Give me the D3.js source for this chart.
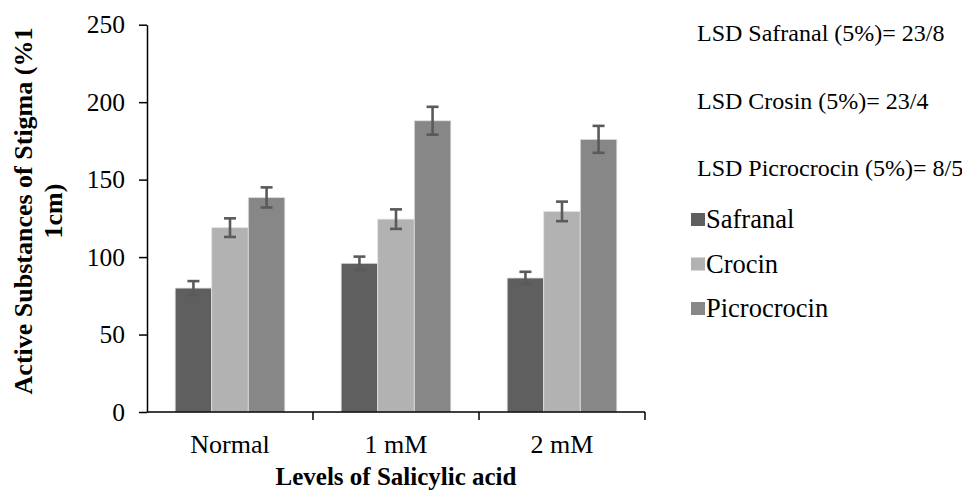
<!DOCTYPE html>
<html>
<head>
<meta charset="utf-8">
<script src="https://cdn.jsdelivr.net/npm/d3@7"></script>
<style>
  body { margin: 0; background: #fff; }
  svg text { font-family: "Liberation Serif", "Tinos", "Times New Roman", "DejaVu Serif", serif; fill: #000; }
</style>
</head>
<body>
<div id="chart"></div>
<script>
// data
const levels = ["Normal", "1 mM", "2 mM"];
const series = ["Safranal", "Crocin", "Picrocrocin"];
const safranal = [80, 96, 86.5];
const crocin = [119, 124.5, 129.5];
const picrocrocin = [138.5, 188, 176];
const safranalErr = [4.5, 4.3, 4];
const crocinErr = [6, 6.3, 6.3];
const picrocrocinErr = [6.5, 9, 8.7];
const yTicks = [0, 50, 100, 150, 200, 250];
const lsdLines = ["LSD Safranal (5%)= 23/8", "LSD Crosin (5%)= 23/4", "LSD Picrocrocin (5%)= 8/5"];
const colors = ["#5f5f5f", "#b2b2b2", "#878787"];

const values = [safranal, crocin, picrocrocin];
const errors = [safranalErr, crocinErr, picrocrocinErr];

const width = 962, height = 492;
const margin = {top: 24.7, left: 147, right: 317, bottom: 80};
const serif = '"Liberation Serif", "Tinos", "Times New Roman", "DejaVu Serif", serif';

const svg = d3.select("#chart").append("svg")
    .attr("width", width)
    .attr("height", height)
    .style("font-family", serif);

const y = d3.scaleLinear()
    .domain([0, 250])
    .range([height - margin.bottom, margin.top]);

const x0 = d3.scaleBand()
    .domain(levels)
    .range([margin.left, width - margin.right]);

const x1 = d3.scaleBand()
    .domain(series)
    .range([0, x0.bandwidth()])
    .paddingOuter(0.77);

const color = d3.scaleOrdinal(series, colors);

// flatten cells
const cells = [];
levels.forEach((lv, i) => {
    series.forEach((s, j) => {
        cells.push({level: lv, serie: s, value: values[j][i], err: errors[j][i]});
    });
});

// bars
svg.append("g").selectAll("rect")
    .data(cells)
    .join("rect")
    .attr("x", d => x0(d.level) + x1(d.serie))
    .attr("y", d => y(d.value))
    .attr("width", x1.bandwidth())
    .attr("height", d => y(0) - y(d.value))
    .attr("fill", d => color(d.serie))
    .attr("stroke", "#e2e2e2")
    .attr("stroke-width", 0.8);

// error bars
const capW = 12;
const errG = svg.append("g")
    .attr("stroke", "#5a5a5a")
    .attr("stroke-width", 2.6)
    .selectAll("g")
    .data(cells)
    .join("g")
    .attr("transform", d => "translate(" + (x0(d.level) + x1(d.serie) + x1.bandwidth() / 2) + ",0)");
errG.append("line")
    .attr("y1", d => y(d.value + d.err))
    .attr("y2", d => y(d.value - d.err));
errG.append("line")
    .attr("x1", -capW / 2).attr("x2", capW / 2)
    .attr("y1", d => y(d.value + d.err)).attr("y2", d => y(d.value + d.err));
errG.append("line")
    .attr("x1", -capW / 2).attr("x2", capW / 2)
    .attr("y1", d => y(d.value - d.err)).attr("y2", d => y(d.value - d.err));

// y axis
const yAxis = svg.append("g")
    .attr("transform", "translate(" + margin.left + ",0)")
    .call(d3.axisLeft(y).tickValues(yTicks).tickSize(8).tickSizeOuter(0).tickPadding(14))
    .attr("font-family", serif);
yAxis.select(".domain").attr("stroke-width", 1.5);
yAxis.selectAll(".tick line").attr("stroke-width", 1.5);
yAxis.selectAll(".tick text")
    .attr("font-size", 25.5);

// x axis: ticks on category boundaries
const xAxisG = svg.append("g")
    .attr("transform", "translate(0," + y(0) + ")");
xAxisG.append("line")
    .attr("x1", margin.left).attr("x2", width - margin.right)
    .attr("stroke", "#000").attr("stroke-width", 1.5);
const bounds = levels.map(lv => x0(lv)).concat([x0.range()[1]]);
xAxisG.selectAll(".bnd")
    .data(bounds.slice(1))
    .join("line")
    .attr("class", "bnd")
    .attr("x1", d => d).attr("x2", d => d)
    .attr("y1", 0).attr("y2", 8)
    .attr("stroke", "#000").attr("stroke-width", 1.5);
xAxisG.selectAll(".cat")
    .data(levels)
    .join("text")
    .attr("class", "cat")
    .attr("x", d => x0(d) + x0.bandwidth() / 2)
    .attr("y", 41)
    .attr("text-anchor", "middle")
    .attr("font-size", 26)
    .text(d => d);

// axis titles
svg.append("text")
    .attr("x", (margin.left + width - margin.right) / 2)
    .attr("y", 485)
    .attr("text-anchor", "middle")
    .attr("font-size", 25)
    .attr("font-weight", "bold")
    .text("Levels of Salicylic acid");

const yTitle = svg.append("text")
    .attr("transform", "translate(0,211) rotate(-90)")
    .attr("text-anchor", "middle")
    .attr("font-size", 26)
    .attr("font-weight", "bold");
yTitle.append("tspan").attr("x", 0).attr("y", 32).text("Active Substances of Stigma (%1");
yTitle.append("tspan").attr("x", 0).attr("y", 62).text("1cm)");

// LSD notes
svg.append("g").selectAll("text")
    .data(lsdLines)
    .join("text")
    .attr("x", 697)
    .attr("y", (d, i) => 41 + i * 67.5)
    .attr("font-size", 24)
    .text(d => d);

// legend
const legend = svg.append("g").selectAll("g")
    .data(series)
    .join("g")
    .attr("transform", (d, i) => "translate(691," + (213 + i * 44.5) + ")");
legend.append("rect")
    .attr("width", 14).attr("height", 13)
    .attr("fill", d => color(d));
legend.append("text")
    .attr("x", 15).attr("y", 15)
    .attr("font-size", 26.5)
    .text(d => d);
</script>
</body>
</html>
